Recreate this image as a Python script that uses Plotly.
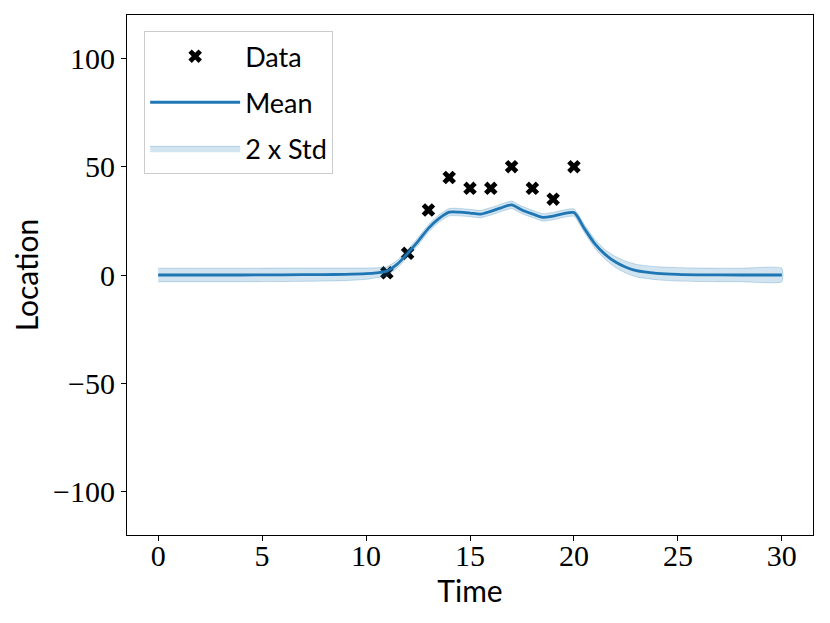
import plotly.graph_objects as go

# observed points
data_t = [11, 12, 13, 14, 15, 16, 17, 18, 19, 20]
data_y = [1, 10, 30, 45, 40, 40, 50, 40, 35, 50]

# posterior mean
mean_t = [0, 2, 4, 6, 8, 9, 10, 10.5, 11, 11.5, 12, 12.5, 13, 13.5, 14, 14.5, 15, 15.5,
          16, 16.5, 17, 17.5, 18, 18.5, 19, 19.5, 20, 20.5, 21, 21.5, 22, 22.5, 23, 24,
          25, 26, 28, 30]
mean_y = [0, 0, 0, 0.1, 0.2, 0.3, 0.6, 1.0, 1.8, 5.0, 10.0, 15.5, 21.5, 26.0, 29.0, 29.0,
          28.6, 28.1, 29.4, 31.0, 32.4, 30.0, 28.2, 26.6, 27.2, 28.3, 28.8, 21.5, 14.5,
          9.5, 6.0, 3.6, 2.0, 0.8, 0.3, 0.1, 0, 0]
# half width of the 2 x std band
band_h = [3.1, 3.1, 3.1, 3.1, 3.0, 2.9, 2.6, 2.3, 2.0, 1.8, 1.7, 1.7, 1.7, 1.7, 1.7, 1.7,
          1.7, 1.7, 1.7, 1.7, 1.7, 1.7, 1.7, 1.7, 1.7, 1.7, 1.7, 1.8, 2.0, 2.2, 2.5, 2.7,
          2.9, 3.0, 3.1, 3.1, 3.1, 3.1]

y_ticks = [-100, -50, 0, 50, 100]
y_labels = ["\u2212100", "\u221250", "0", "50", "100"]
x_ticks = [0, 5, 10, 15, 20, 25, 30]

blue = "#1f77b4"
upper = [m + h for m, h in zip(mean_y, band_h)]
lower = [m - h for m, h in zip(mean_y, band_h)]

fig = go.Figure()

fig.add_trace(go.Scatter(
    x=data_t, y=data_y, mode="markers", name="Data", legendgroup="a",
    marker=dict(symbol="x", size=12, color="black"),
))
fig.add_trace(go.Scatter(
    x=mean_t, y=mean_y, mode="lines", name="Mean", legendgroup="b",
    line=dict(color=blue, width=2.8, shape="spline", smoothing=0.8),
))
fig.add_trace(go.Scatter(
    x=mean_t + mean_t[::-1], y=upper + lower[::-1],
    mode="lines", fill="toself", name="2 x Std", legendgroup="c",
    fillcolor="rgba(31,119,180,0.2)",
    line=dict(color="rgba(31,119,180,0.25)", width=1, shape="spline", smoothing=0.5),
))

axis_common = dict(
    showgrid=False, zeroline=False, showline=True, linecolor="black", linewidth=1,
    mirror=True, ticks="outside", ticklen=5, tickcolor="black",
    tickfont=dict(family="Liberation Serif", size=30, color="black"),
)

fig.update_xaxes(range=[-1.5, 31.5], tickvals=x_ticks, ticklabelstandoff=-11,
                 title=dict(text="Time", font=dict(family="Lato", size=30, color="black"),
                            standoff=6),
                 **axis_common)
fig.update_yaxes(range=[-120, 120], tickvals=y_ticks, ticktext=y_labels,
                 title=dict(text="Location", font=dict(family="Lato", size=30, color="black"),
                            standoff=12),
                 **axis_common)

fig.update_layout(
    width=830, height=623,
    margin=dict(l=119, r=25, t=7, b=96),
    plot_bgcolor="white", paper_bgcolor="white",
    showlegend=True,
    legend=dict(
        x=0.025, y=0.969, xanchor="left", yanchor="top",
        bgcolor="rgba(255,255,255,0.8)", bordercolor="#cccccc", borderwidth=1,
        font=dict(family="Lato", size=27, color="black"),
        itemwidth=90, tracegroupgap=8,
    ),
)

fig.write_html("out.html")
